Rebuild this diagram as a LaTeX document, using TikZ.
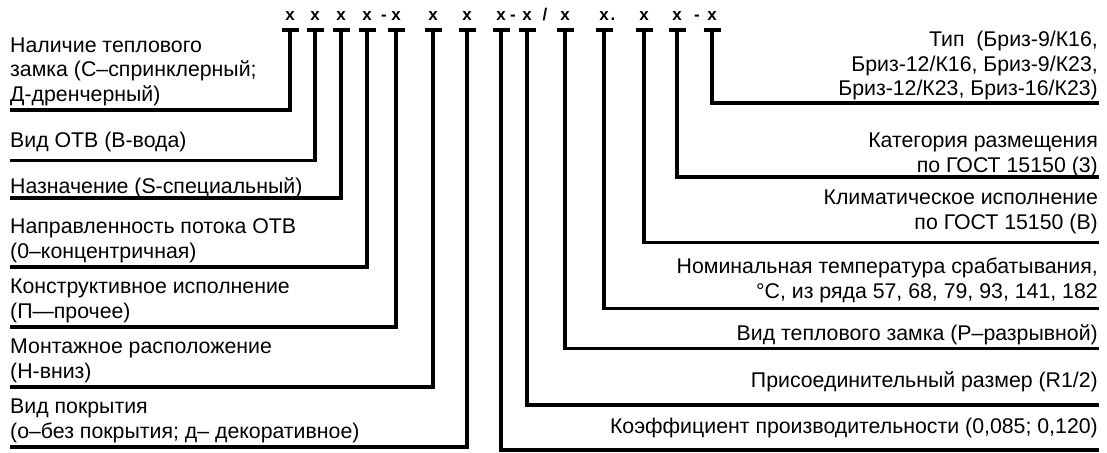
\documentclass[tikz,border=0pt]{standalone}
\usepackage{fontspec}
\setmainfont{Liberation Sans}
\usetikzlibrary{calc}
\tikzset{
	bar/.style={line width=3.6pt},
	lead/.style={line width=3.3pt},
	code/.style={font=\fontsize{17}{17}\selectfont\bfseries, inner sep=0pt, anchor=base},
	lbl/.style={font=\fontsize{21.3}{24.5}\selectfont, inner sep=0pt, align=left, anchor=base west},
	rbl/.style={font=\fontsize{21.3}{24.5}\selectfont, inner sep=0pt, align=right, anchor=base east}
}
\newcommand{\tee}[2] % name, x in px
{
	% letter over the bar
	\node[code] (#1) at (#2,20.5) {x};
	% crossbar
	\draw[bar] (#2-8.5,30) -- (#2+8.5,30);
	\coordinate (#1t) at (#2,30);
}
\begin{document}
\begin{tikzpicture}[x=1pt,y=-1pt]
	% 1107 x 452 px, anchors on the last baseline
	\useasboundingbox (0,0) rectangle (1107,452);
	\tee{c1}{290};
	\tee{c2}{315};
	\tee{c3}{341};
	\tee{c4}{367};
	\tee{c5}{396};
	\tee{c6}{433};
	\tee{c7}{467};
	\tee{c8}{501};
	\tee{c9}{527};
	\tee{c10}{565};
	\tee{c11}{604};
	\tee{c12}{644};
	\tee{c13}{677};
	\tee{c14}{712};
	
	% separators
	\node[code] (s1) at (384,20.5) {-};
	\node[code] (s2) at (513,20.5) {-};
	\node[code] (s3) at (545,20.5) {/};
	\node[code] (s4) at (613,20.5) {.};
	\node[code] (s5) at (697,20.5) {-};
	
	% left side
	\node[lbl] (l1) at (10,101) {Наличие теплового\\замка (С–спринклерный;\\Д-дренчерный)};
	\node[lbl] (l2) at (10,147) {Вид ОТВ (В-вода)};
	\node[lbl] (l3) at (10,193) {Назначение (S-специальный)};
	\node[lbl] (l4) at (10,258) {Направленность потока ОТВ\\(0–концентричная)};
	\node[lbl] (l5) at (10,318) {Конструктивное исполнение\\(П—прочее)};
	\node[lbl] (l6) at (10,378) {Монтажное расположение\\(Н-вниз)};
	\node[lbl] (l7) at (10,438) {Вид покрытия\\(о–без покрытия; д– декоративное)};
	
	\coordinate (e1) at (10,110);
	\coordinate (e2) at (10,160.5);
	\coordinate (e3) at (10,198);
	\coordinate (e4) at (10,267);
	\coordinate (e5) at (10,327);
	\coordinate (e6) at (10,387);
	\coordinate (e7) at (10,447);
	\draw[lead] (c1t) |- (e1);
	\draw[lead] (c2t) |- (e2);
	\draw[lead] (c3t) |- (e3);
	\draw[lead] (c4t) |- (e4);
	\draw[lead] (c5t) |- (e5);
	\draw[lead] (c6t) |- (e6);
	\draw[lead] (c7t) |- (e7);
	
	% right side
	\node[rbl] (r1) at (1098,95.5) {Тип\ \ (Бриз-9/К16,\\Бриз-12/К16, Бриз-9/К23,\\Бриз-12/К23, Бриз-16/К23)};
	\node[rbl] (r2) at (1098,172) {Категория размещения\\по ГОСТ 15150 (3)};
	\node[rbl] (r3) at (1098,229) {Климатическое исполнение\\по ГОСТ 15150 (В)};
	\node[rbl] (r4) at (1098,298) {Номинальная температура срабатывания,\\°C, из ряда 57, 68, 79, 93, 141, 182};
	\node[rbl] (r5) at (1098,340) {Вид теплового замка (Р–разрывной)};
	\node[rbl] (r6) at (1098,387) {Присоединительный размер (R1/2)};
	\node[rbl] (r7) at (1098,433) {Коэффициент производительности (0,085; 0,120)};
	
	\coordinate (f8) at (1099,450);
	\coordinate (f9) at (1099,405);
	\coordinate (f10) at (1099,348.5);
	\coordinate (f11) at (1099,308.5);
	\coordinate (f12) at (1099,242.5);
	\coordinate (f13) at (1099,177);
	\coordinate (f14) at (1099,103);
	\draw[lead] (c8t) |- (f8);
	\draw[lead] (c9t) |- (f9);
	\draw[lead] (c10t) |- (f10);
	\draw[lead] (c11t) |- (f11);
	\draw[lead] (c12t) |- (f12);
	\draw[lead] (c13t) |- (f13);
	\draw[lead] (c14t) |- (f14);
\end{tikzpicture}
\end{document}
